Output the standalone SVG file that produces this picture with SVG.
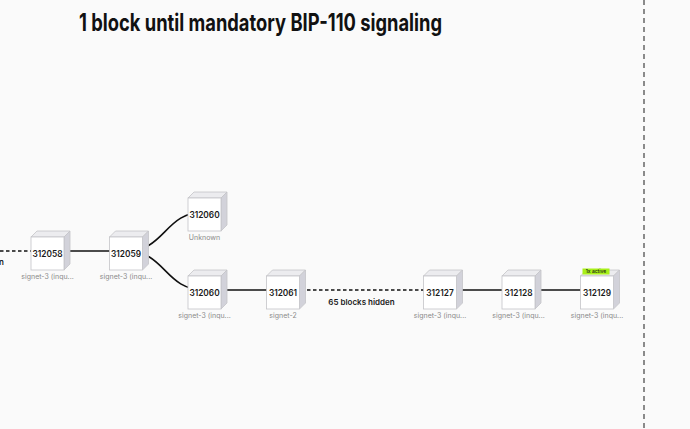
<svg xmlns="http://www.w3.org/2000/svg" width="690" height="429" viewBox="0 0 690 429">
<defs>
<style>
.front{fill:#ffffff;stroke:#c4c4c8;stroke-width:0.8}
.top{fill:#ececef;stroke:#c4c4c8;stroke-width:0.8}
.side{fill:#d2d2da;stroke:#c4c4c8;stroke-width:0.8}
.num{font-family:Inter,"Liberation Sans",sans-serif;font-size:8.3px;font-weight:600;fill:#1a1a1a;text-anchor:middle}
.lbl{font-family:Inter,"Liberation Sans",sans-serif;font-size:7px;fill:#8a8a8a;text-anchor:middle}
.edge{fill:none;stroke:#111;stroke-width:1.6}
.dash{stroke-dasharray:3.5 2.5}
</style>
<g id="cube">
<polygon class="top" points="0,0 6,-6 39,-6 33,0"/>
<polygon class="side" points="33,0 39,-6 39,27 33,33"/>
<rect class="front" x="0" y="0" width="33" height="33"/>
</g>
</defs>
<rect x="0" y="0" width="690" height="429" fill="#fafafa"/>
<text x="79" y="31" font-family="Inter,'Liberation Sans',sans-serif" font-size="24" font-weight="700" fill="#111" textLength="363" lengthAdjust="spacingAndGlyphs">1 block until mandatory BIP-110 signaling</text>
<line x1="644" y1="0" x2="644" y2="429" stroke="#8a8a8a" stroke-width="2" stroke-dasharray="5 4"/>
<g id="connectors">
<path class="edge dash" d="M0,251 L47.5,251"/>
<path class="edge" d="M47.5,251 L126,251"/>
<path class="edge" d="M126,251 C166,251 164,212 204.5,212"/>
<path class="edge" d="M126,251 C166,251 164,290 204.5,290"/>
<path class="edge" d="M204.5,290 L283,290"/>
<path class="edge dash" d="M283,290 L440,290"/>
<path class="edge" d="M440,290 L518.5,290"/>
<path class="edge" d="M518.5,290 L597,290"/>
<text x="4" y="265" font-family="Inter,'Liberation Sans',sans-serif" font-size="8" font-weight="600" fill="#1a1a1a" text-anchor="end">n</text>
<text x="361.5" y="305" font-family="Inter,'Liberation Sans',sans-serif" font-size="8" font-weight="600" fill="#1a1a1a" text-anchor="middle">65 blocks hidden</text>
</g>
<g id="n312058"><use href="#cube" x="31" y="237"/><text class="num" x="47.5" y="256.5">312058</text><text class="lbl" x="47.5" y="279">signet-3 (inqu...</text></g>
<g id="n312059"><use href="#cube" x="109.5" y="237"/><text class="num" x="126" y="256.5">312059</text><text class="lbl" x="126" y="279">signet-3 (inqu...</text></g>
<g id="n312060u"><use href="#cube" x="188" y="198"/><text class="num" x="204.5" y="217.5">312060</text><text class="lbl" x="204.5" y="240">Unknown</text></g>
<g id="n312060"><use href="#cube" x="188" y="276"/><text class="num" x="204.5" y="295.5">312060</text><text class="lbl" x="204.5" y="318">signet-3 (inqu...</text></g>
<g id="n312061"><use href="#cube" x="266.5" y="276"/><text class="num" x="283" y="295.5">312061</text><text class="lbl" x="283" y="318">signet-2</text></g>
<g id="n312127"><use href="#cube" x="423.5" y="276"/><text class="num" x="440" y="295.5">312127</text><text class="lbl" x="440" y="318">signet-3 (inqu...</text></g>
<g id="n312128"><use href="#cube" x="502" y="276"/><text class="num" x="518.5" y="295.5">312128</text><text class="lbl" x="518.5" y="318">signet-3 (inqu...</text></g>
<g id="n312129"><use href="#cube" x="580.5" y="276"/><text class="num" x="597" y="295.5">312129</text><text class="lbl" x="597" y="318">signet-3 (inqu...</text>
<rect x="582.5" y="268.5" width="27" height="6" fill="#a8f018"/>
<text x="596" y="273.2" font-family="Inter,'Liberation Sans',sans-serif" font-size="5" font-weight="500" fill="#1a1a1a" text-anchor="middle">1x active</text></g>
</svg>
